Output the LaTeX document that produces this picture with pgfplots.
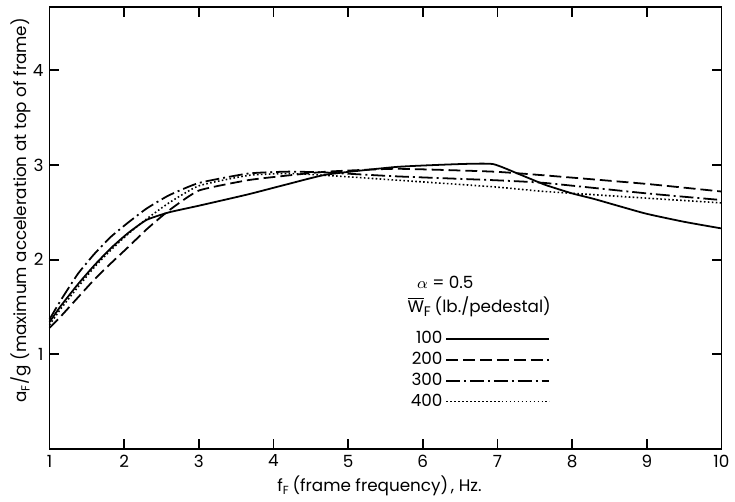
\documentclass[border=0pt]{standalone}
\usepackage{pgfplots}
\pgfplotsset{compat=1.18}
\usepackage{fontspec}
\setmainfont{Poppins}

\pgfplotstableread{
x y
1 1.34
1.15 1.51
1.38 1.74
1.6 1.94
1.82 2.12
2.05 2.28
2.3 2.42
2.6 2.50
3 2.57
3.66 2.69
4.2 2.80
4.72 2.90
5.65 2.98
6.5 3.01
6.94 3.01
7.3 2.90
7.64 2.79
8.0 2.70
8.3 2.64
8.97 2.49
9.5 2.40
10 2.33
}\wone

\pgfplotstableread{
x y
1 1.28
1.15 1.40
1.38 1.60
1.6 1.79
1.82 1.96
2.05 2.13
2.3 2.32
2.6 2.52
3 2.73
3.66 2.84
4.2 2.89
4.72 2.93
5.65 2.96
6.94 2.93
7.64 2.89
9 2.80
10 2.72
}\wtwo

\pgfplotstableread{
x y
1 1.37
1.15 1.57
1.38 1.85
1.6 2.06
1.82 2.24
2.05 2.39
2.3 2.54
2.6 2.68
3 2.81
3.66 2.91
4.2 2.93
4.72 2.92
5.65 2.88
6.94 2.84
7.64 2.81
9 2.70
10 2.63
}\wthree

\pgfplotstableread{
x y
1 1.31
1.15 1.48
1.38 1.71
1.6 1.92
1.82 2.10
2.05 2.27
2.3 2.43
2.6 2.60
3 2.78
3.66 2.89
4.2 2.91
4.72 2.89
5.65 2.84
6.94 2.77
7.64 2.72
9 2.65
10 2.60
}\wfour

\begin{document}
\fontsize{8.5}{10}\selectfont
\begin{tikzpicture}
\begin{axis}[
scale only axis,
width=339bp, height=223bp,
xmin=1, xmax=10,
ymin=0, ymax=4.67,
xtick={1,...,10},
ytick={1,2,3,4},
tick align=inside,
tick pos=both,
major tick length=5bp,
every tick/.style={black, line width=0.9pt},
axis line style={line width=0.9pt},
/pgf/number format/assume math mode=true,
clip=false,
xlabel={f\textsubscript{F}\,(frame frequency)\,, Hz.},
ylabel={a\textsubscript{F}/g (maximum acceleration at top of frame)},
xlabel style={at={(rel axis cs:0.491,-0.083)}, anchor=center},
ylabel style={at={(rel axis cs:-0.042,0.54)}, anchor=center},
legend plot pos=right,
legend cell align=right,
legend image code/.code={\draw[#1] (0bp,0bp) -- (52bp,0bp);},
legend style={at={(rel axis cs:0.524,0.282)}, anchor=north west,
  draw=none, fill=none, row sep=0pt,
  nodes={inner sep=1.5pt}},
]
\path (rel axis cs:-0.0737,-0.1143) rectangle (rel axis cs:1.0103,1.0157);

\addplot [black, line width=0.9pt, smooth, tension=0.3] table [x=x, y=y] {\wone};
\addlegendentry{100}
\addplot [black, line width=0.9pt, smooth, tension=0.3, dash pattern=on 6bp off 2.5bp] table [x=x, y=y] {\wtwo};
\addlegendentry{200}
\addplot [black, line width=0.9pt, smooth, tension=0.3, dash pattern=on 7bp off 2bp on 1bp off 2bp] table [x=x, y=y] {\wthree};
\addlegendentry{300}
\addplot [black, line width=0.8pt, smooth, tension=0.3, dash pattern=on 0.8bp off 1.2bp] table [x=x, y=y] {\wfour};
\addlegendentry{400}

\node [anchor=west] at (rel axis cs:0.538,0.377) {$\alpha$ = 0.5};
\node [anchor=west] at (rel axis cs:0.524,0.321) {$\overline{\mbox{W}}_{\mbox{\scriptsize F}}$\,(lb./pedestal)};
\end{axis}
\end{tikzpicture}
\end{document}
